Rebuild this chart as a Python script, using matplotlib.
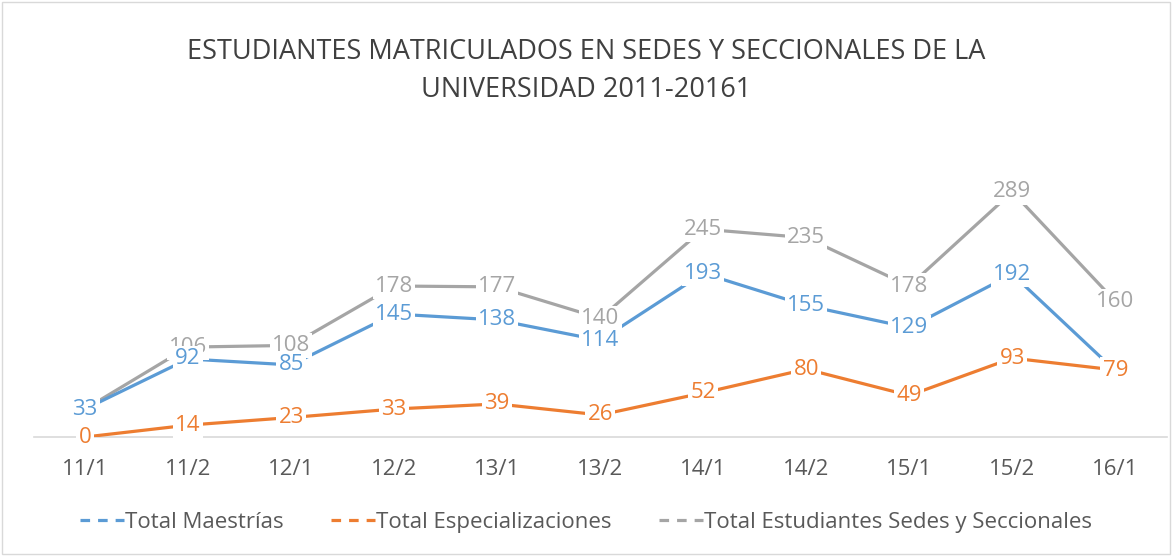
import numpy as np
import matplotlib.pyplot as plt
from matplotlib.patches import Rectangle

plt.rcParams['font.family'] = ['Open Sans', 'DejaVu Sans']

# data
periodos = ["11/1", "11/2", "12/1", "12/2", "13/1", "13/2", "14/1", "14/2", "15/1", "15/2", "16/1"]
maestrias = [33, 92, 85, 145, 138, 114, 193, 155, 129, 192, 78]
especializaciones = [0, 14, 23, 33, 39, 26, 52, 80, 49, 93, 79]
total_sedes = [33, 106, 108, 178, 177, 140, 245, 235, 178, 289, 160]

series = [
    ("Total Maestrías", maestrias, "#5B9BD5"),
    ("Total Especializaciones", especializaciones, "#ED7D31"),
    ("Total Estudiantes Sedes y Seccionales", total_sedes, "#A5A5A5"),
]

fig = plt.figure(figsize=(11.72, 5.56), dpi=100)
ax = fig.add_axes([0.0286, 0.214, 0.967, 0.534])
x = np.arange(len(periodos))

# gray at the back, then blue, orange in front
orden = [series[2], series[0], series[1]]
for name, vals, col in orden:
    ax.plot(x, vals, color=col, lw=2.3, solid_capstyle='round', zorder=2)
for k, (name, vals, col) in enumerate(orden):
    for xi, v in zip(x, vals):
        ax.text(xi, v, str(v), color=col, fontsize=16, ha='center', va='center',
                bbox=dict(boxstyle='square,pad=0.1', fc='white', ec='none'),
                zorder=3 + k)

ax.set_xlim(-0.5, len(periodos) - 0.5)
ax.set_ylim(0, 350)
ax.set_xticks(x)
ax.set_xticklabels(periodos, fontsize=16, color="#595959")
ax.tick_params(axis='x', length=0, pad=16)
ax.set_yticks([])
for s in ['top', 'right', 'left']:
    ax.spines[s].set_visible(False)
ax.spines['bottom'].set_color("#D9D9D9")
ax.spines['bottom'].set_linewidth(1.2)
ax.spines['bottom'].set_zorder(1)

fig.text(0.5, 0.872, "ESTUDIANTES MATRICULADOS EN SEDES Y SECCIONALES DE LA\nUNIVERSIDAD 2011-20161",
         ha='center', va='center', fontsize=19.5, color="#404040", linespacing=1.5)

handles = [plt.Line2D([0], [0], color=col, lw=2.3, linestyle=(0, (3, 2.5))) for _, _, col in series]
fig.legend(handles, [s[0] for s in series], loc='center', bbox_to_anchor=(0.5, 0.061), ncol=3,
           frameon=False, fontsize=16, labelcolor="#595959", handlelength=2.0,
           handletextpad=0.05, columnspacing=2.1)

fig.patches.append(Rectangle((0.002, 0.003), 0.996, 0.994, transform=fig.transFigure,
                             fill=False, ec="#D9D9D9", lw=1))

fig.savefig("out.png", dpi=100)
